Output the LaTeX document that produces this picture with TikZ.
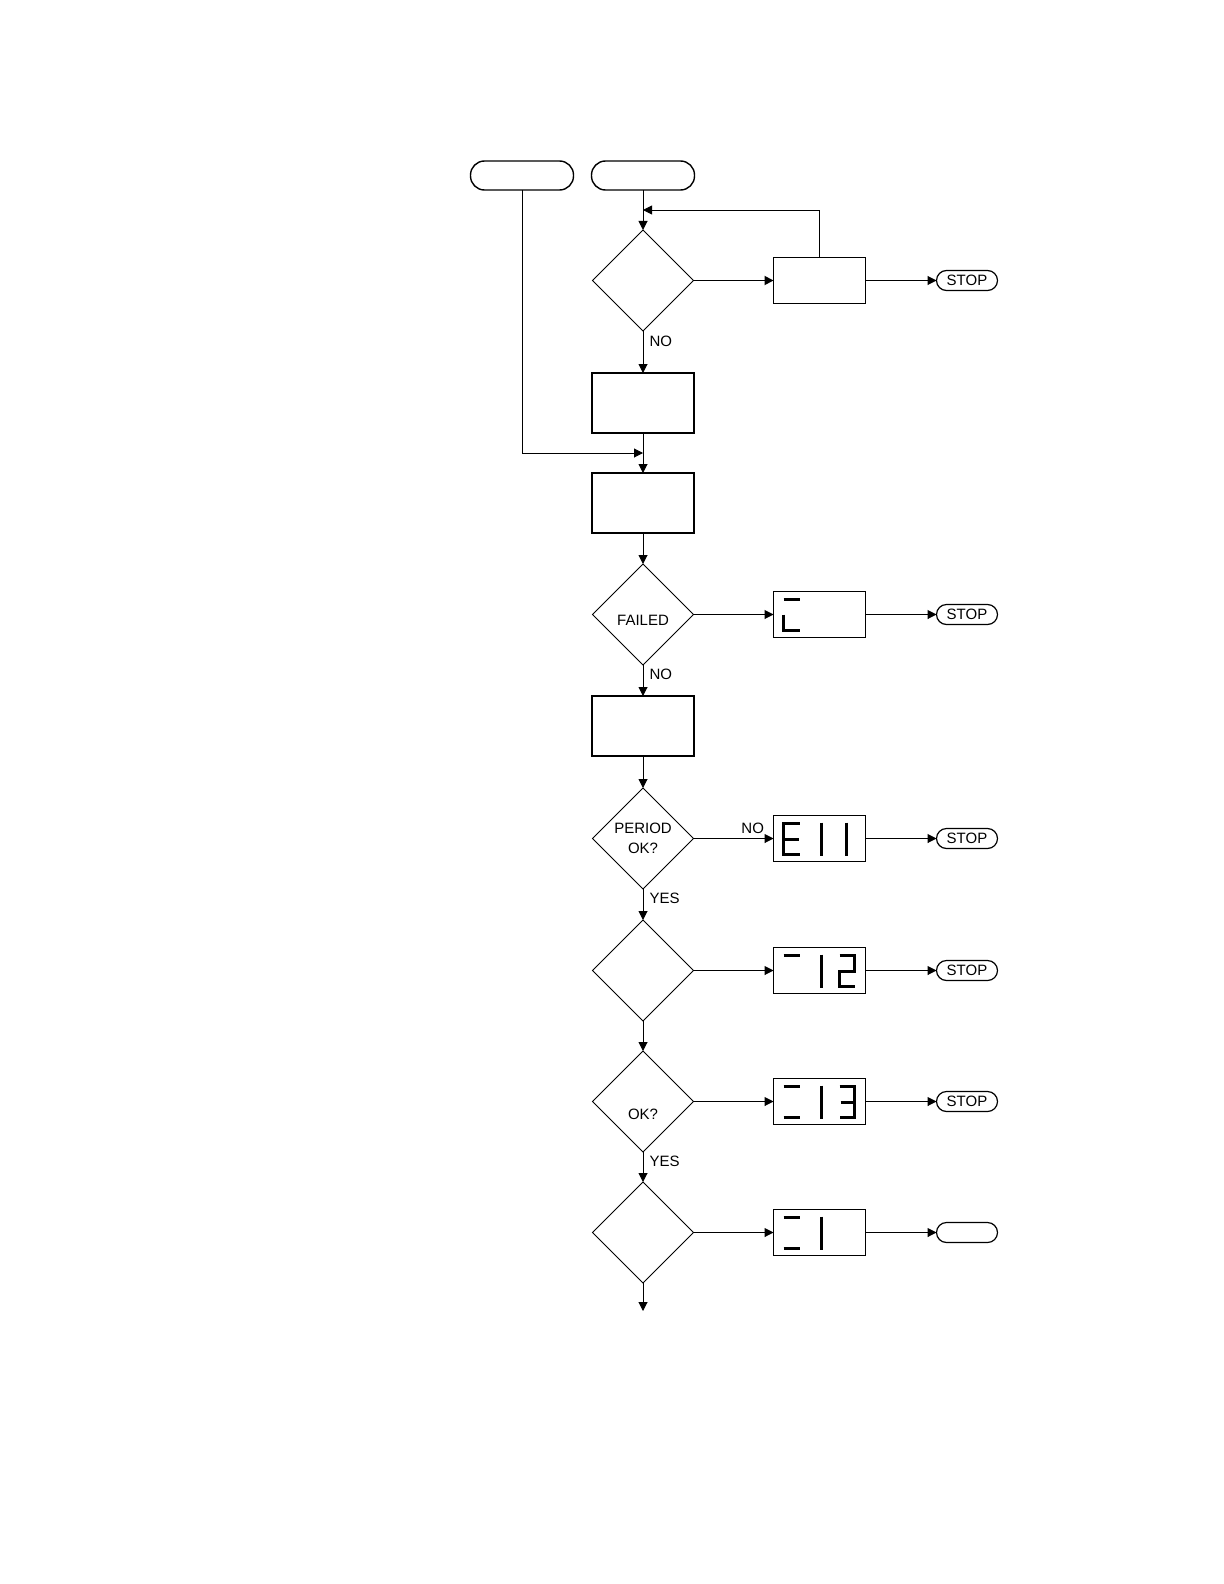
\documentclass[tikz,border=0pt]{standalone}
\usepackage{fontspec}
\newfontfamily\plotfont{Liberation Sans}
\usetikzlibrary{positioning,arrows.meta,calc,shapes.geometric}

\begin{document}
\begin{tikzpicture}[x=0.5pt,y=-0.5pt,>=Triangle,
  term/.style={rectangle, rounded corners=7pt, draw=black, line width=0.7pt,
    minimum width=51.5pt, minimum height=14.5pt, inner sep=0pt, outer sep=0pt},
  stopbox/.style={rectangle, rounded corners=5pt, draw=black, line width=0.6pt,
    minimum width=30.5pt, minimum height=10pt, inner sep=0pt, outer sep=0pt,
    font=\plotfont\fontsize{7.5}{8}\selectfont},
  decision/.style={diamond, aspect=1, draw=black, line width=0.5pt,
    minimum width=50.5pt, minimum height=50.5pt, inner sep=0pt, outer sep=0pt,
    align=center, font=\plotfont\fontsize{7.5}{10}\selectfont},
  block/.style={rectangle, draw=black, line width=0.7pt,
    minimum width=51pt, minimum height=30pt, inner sep=0pt, outer sep=0pt},
  disp/.style={rectangle, draw=black, line width=0.7pt,
    minimum width=46pt, minimum height=23pt, inner sep=0pt, outer sep=0pt},
  seg/.style={line width=1.2pt, line cap=butt},
  arrow/.style={-{Triangle[length=4.5pt,width=4.5pt]}, line width=0.5pt},
  lbl/.style={font=\plotfont\fontsize{7.5}{8}\selectfont, inner sep=1pt}]

  \useasboundingbox (0,0) rectangle (1224,1584);

  % entry points
  \node[term] (start2) at (643,175.5) {};
  \node[term, left=9pt of start2] (start1) {};

  % main column
  \node[decision, below=20pt of start2] (dec1) {};
  \node[block, below=21pt of dec1] (proc1) {};
  \node[block, below=20pt of proc1] (proc2) {};
  \node[decision, below=15.5pt of proc2, label={[lbl, yshift=-3pt]center:FAILED}] (dec2) {};
  \node[block, below=15.5pt of dec2] (proc3) {};
  \node[decision, below=16pt of proc3] (dec3) {PERIOD\\OK?};
  \node[decision, below=15.5pt of dec3] (dec4) {};
  \node[decision, below=15pt of dec4, label={[lbl, yshift=-6.5pt]center:OK?}] (dec5) {};
  \node[decision, below=15pt of dec5] (dec6) {};
  \coordinate[below=14pt of dec6] (exit);

  % side column: displays and stops
  \node[disp, right=40pt of dec1] (box1) {};
  \node[stopbox, right=35.5pt of box1] (stop1) {STOP};
  \node[disp, right=40pt of dec2] (disp1) {};
  \node[stopbox, right=35.5pt of disp1] (stop2) {STOP};
  \node[disp, right=40pt of dec3] (disp2) {};
  \node[stopbox, right=35.5pt of disp2] (stop3) {STOP};
  \node[disp, right=40pt of dec4] (disp3) {};
  \node[stopbox, right=35.5pt of disp3] (stop4) {STOP};
  \node[disp, right=40pt of dec5] (disp4) {};
  \node[stopbox, right=35.5pt of disp4] (stop5) {STOP};
  \node[disp, right=40pt of dec6] (disp5) {};
  \node[stopbox, right=35.5pt of disp5] (stop6) {};

  % display segments
  \begin{scope}[shift={(disp1.north west)}]
    \draw[seg] (10,8) -- (26,8);
    \draw[seg] (10,23) -- (10,39) -- (26,39);
  \end{scope}
  \begin{scope}[shift={(disp2.north west)}]
    \draw[seg] (26,8) -- (10,8) -- (10,39) -- (26,39);
    \draw[seg] (10,24) -- (25,24);
    \draw[seg] (48,7) -- (48,40);
    \draw[seg] (73,7) -- (73,40);
  \end{scope}
  \begin{scope}[shift={(disp3.north west)}]
    \draw[seg] (10,8) -- (26,8);
    \draw[seg] (48,7) -- (48,40);
    \draw[seg] (66,8) -- (81,8) -- (81,24) -- (66,24) -- (66,39) -- (81,39);
  \end{scope}
  \begin{scope}[shift={(disp4.north west)}]
    \draw[seg] (10,8) -- (26,8);
    \draw[seg] (10,39) -- (26,39);
    \draw[seg] (48,7) -- (48,40);
    \draw[seg] (66,8) -- (81,8) -- (81,39) -- (66,39);
    \draw[seg] (67,24) -- (81,24);
  \end{scope}
  \begin{scope}[shift={(disp5.north west)}]
    \draw[seg] (10,8) -- (26,8);
    \draw[seg] (10,39) -- (26,39);
    \draw[seg] (48,7) -- (48,40);
  \end{scope}

  % connectors
  \draw[arrow] (start2) -- (dec1);
  \draw[arrow] (box1.north) |- ($(start2.south)!.5!(dec1.north)$);
  \draw[arrow, line width=0.9pt] (dec1) -- (box1);
  \draw[arrow] (box1) -- (stop1);
  \draw[arrow] (dec1) -- node[lbl, pos=0.24, anchor=west, xshift=2pt] {NO} (proc1);
  \draw[arrow] (start1.south) |- ($(proc1.south)!.5!(proc2.north)$);
  \draw[arrow] (proc1) -- (proc2);
  \draw[arrow] (proc2) -- (dec2);
  \draw[arrow] (dec2) -- (disp1);
  \draw[arrow] (disp1) -- (stop2);
  \draw[arrow] (dec2) -- node[lbl, pos=0.3, anchor=west, xshift=2pt] {NO} (proc3);
  \draw[arrow] (proc3) -- (dec3);
  \draw[arrow] (dec3) -- node[lbl, pos=0.74, anchor=south, yshift=1pt] {NO} (disp2);
  \draw[arrow] (disp2) -- (stop3);
  \draw[arrow] (dec3) -- node[lbl, pos=0.3, anchor=west, xshift=2pt] {YES} (dec4);
  \draw[arrow] (dec4) -- (disp3);
  \draw[arrow] (disp3) -- (stop4);
  \draw[arrow] (dec4) -- (dec5);
  \draw[arrow] (dec5) -- (disp4);
  \draw[arrow] (disp4) -- (stop5);
  \draw[arrow] (dec5) -- node[lbl, pos=0.3, anchor=west, xshift=2pt] {YES} (dec6);
  \draw[arrow] (dec6) -- (disp5);
  \draw[arrow] (disp5) -- (stop6);
  \draw[arrow] (dec6) -- (exit);
\end{tikzpicture}
\end{document}
